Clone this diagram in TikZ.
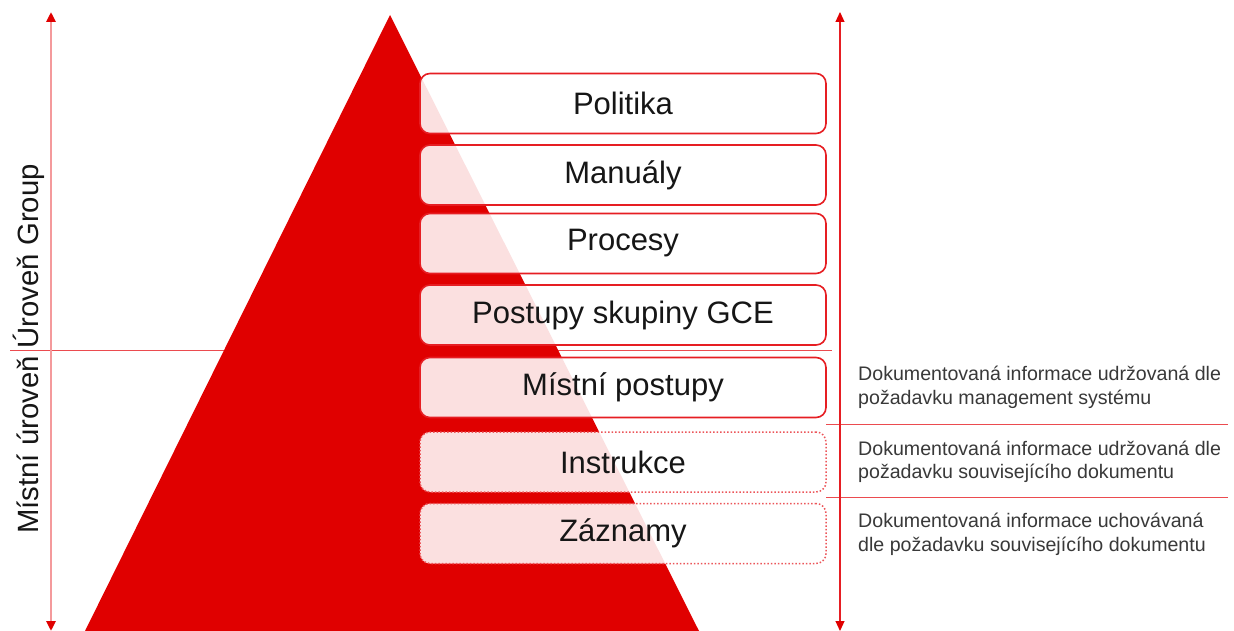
\documentclass[tikz,border=0pt]{standalone}
\usepackage{fontspec}
\setmainfont{Liberation Sans}
\usetikzlibrary{arrows.meta}
\definecolor{mred}{RGB}{224,0,0}
\definecolor{bred}{RGB}{230,30,35}
\definecolor{txt}{RGB}{22,22,22}
\begin{document}
\begin{tikzpicture}[x=1pt,y=-1pt,
  lvl/.style={draw=bred, line width=1.6pt, rounded corners=10pt, fill=white, fill opacity=0.88, text opacity=1,
    minimum width=406pt, minimum height=60pt, inner sep=0pt, outer sep=0pt, text=txt,
    font=\fontsize{31}{36}\selectfont},
  dotlvl/.style={lvl, draw=bred!75, line width=1.5pt, dotted},
  note/.style={anchor=west, align=left, text=txt!85, inner sep=0pt, font=\fontsize{19.6}{23.5}\selectfont},
  sep/.style={draw=bred!80, line width=0.9pt},
  axis/.style={{Triangle[width=9pt,length=10pt,color=mred]}-{Triangle[width=9pt,length=10pt,color=mred]}}
]
\useasboundingbox (0,0) rectangle (1234,631);
\fill[white] (0,0) rectangle (1234,631);
% separator lines
\coordinate (s1a) at (10,350); \coordinate (s1b) at (832,350);
\coordinate (s2a) at (826,424); \coordinate (s2b) at (1228,424);
\coordinate (s3a) at (826,497); \coordinate (s3b) at (1228,497);
\draw[sep] (s1a) -- (s1b);
% pyramid
\coordinate (apex) at (390,15);
\coordinate (bl) at (85,631);
\coordinate (br) at (699,631);
\fill[mred] (apex) -- (bl) -- (br) -- cycle;
\draw[sep] (s2a) -- (s2b);
\draw[sep] (s3a) -- (s3b);
% axes
\coordinate (lt) at (51,12); \coordinate (lb) at (51,631);
\coordinate (rt) at (840,12); \coordinate (rb) at (840,631);
\draw[axis, draw=bred!45, line width=2.6pt] (lt) -- (lb);
\draw[axis, draw=bred, line width=1.1pt] (rt) -- (rb);
% levels
\node[lvl] (l1) at (623,103.5) {Politika};
\node[lvl] (l2) at (623,175) {Manuály};
\node[lvl] (l3) at (623,243.5) {Procesy};
\node[lvl] (l4) at (623,315) {Postupy skupiny GCE};
\node[lvl] (l5) at (623,387.5) {Místní postupy};
\node[dotlvl] (l6) at (623,462) {Instrukce};
\node[dotlvl] (l7) at (623,533.5) {Záznamy};
% notes
\node[note] (n5) at (858,387.5) {Dokumentovaná informace udržovaná dle\\požadavku management systému};
\node[note] (n6) at (858,462) {Dokumentovaná informace udržovaná dle\\požadavku souvisejícího dokumentu};
\node[note] (n7) at (858,534.5) {Dokumentovaná informace uchovávaná\\dle požadavku souvisejícího dokumentu};
% vertical label
\node[rotate=90, text=txt, inner sep=0pt, font=\fontsize{29.3}{34}\selectfont] (lv) at (29,349) {Místní úroveň Úroveň Group};
\end{tikzpicture}
\end{document}
